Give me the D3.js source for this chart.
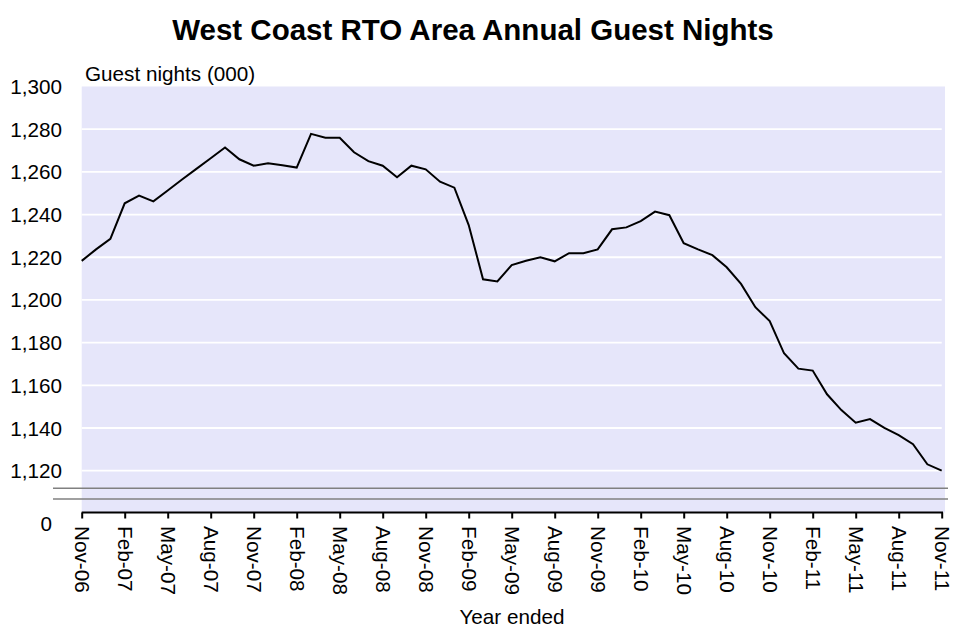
<!DOCTYPE html>
<html>
<head>
<meta charset="utf-8">
<script src="https://cdn.jsdelivr.net/npm/d3@7"></script>
<style>
  html, body { margin: 0; padding: 0; background: #fff; }
  svg { display: block; }
  text { font-family: "Liberation Sans", Arial, sans-serif; fill: #000; }
</style>
</head>
<body>
<svg id="chart" width="953" height="626"></svg>
<script>
// ---- Data ----
const title = "West Coast RTO Area Annual Guest Nights";
const yAxisTitle = "Guest nights (000)";
const xAxisTitle = "Year ended";
// Monthly annual guest nights (000), Nov-06 .. Nov-11
const guestNights = [
  1218.3, 1223.7, 1228.6, 1245.3, 1248.9, 1246.2, 1251.3, 1256.4, 1261.4, 1266.4,
  1271.4, 1265.9, 1262.9, 1264.0, 1263.1, 1262.0, 1277.8, 1276.0, 1276.0, 1269.2,
  1265.0, 1262.9, 1257.5, 1262.9, 1261.2, 1255.4, 1252.6, 1235.1, 1209.7, 1208.7,
  1216.3, 1218.4, 1220.0, 1218.1, 1221.9, 1221.9, 1223.7, 1233.1, 1234.0, 1236.9,
  1241.4, 1239.7, 1226.6, 1223.7, 1221.0, 1215.3, 1207.5, 1196.6, 1190.1, 1175.0,
  1167.8, 1166.9, 1155.8, 1148.4, 1142.5, 1144.2, 1140.1, 1136.7, 1132.4, 1123.0,
  1120.0
];
const xTickIndex = [0, 3, 6, 9, 12, 15, 18, 21, 24, 27, 30, 33, 36, 39, 42, 45, 48, 51, 54, 57, 60];
const xTickLabels = ["Nov-06","Feb-07","May-07","Aug-07","Nov-07","Feb-08","May-08","Aug-08",
  "Nov-08","Feb-09","May-09","Aug-09","Nov-09","Feb-10","May-10","Aug-10","Nov-10",
  "Feb-11","May-11","Aug-11","Nov-11"];
const yTicks = [1120, 1140, 1160, 1180, 1200, 1220, 1240, 1260, 1280, 1300];
const yBreakLabel = "0";

// ---- Layout ----
const svg = d3.select("#chart");
const plotL = 81.7, plotR = 941.7, bgR = 945;
const plotTop = 86.5, axisY = 512.5;
const fs = 20.7;

const x = d3.scaleLinear().domain([0, guestNights.length - 1]).range([plotL, plotR]);
const y = d3.scaleLinear().domain([1120, 1300]).range([470.7, plotTop]);

// plot background
svg.append("rect")
  .attr("x", plotL).attr("y", plotTop)
  .attr("width", bgR - plotL).attr("height", axisY - plotTop)
  .attr("fill", "#e6e6fa");

// gridlines
svg.append("g").selectAll("line")
  .data(yTicks.filter(d => d < 1300))
  .join("line")
  .attr("x1", plotL).attr("x2", plotR)
  .attr("y1", d => y(d)).attr("y2", d => y(d))
  .attr("stroke", "#fff").attr("stroke-width", 1.8);

// axis break lines
[488.3, 499].forEach(yy => {
  svg.append("line")
    .attr("x1", 53).attr("x2", 948)
    .attr("y1", yy).attr("y2", yy)
    .attr("stroke", "#808080").attr("stroke-width", 1.6);
});

// y axis labels
const yAxis = d3.axisLeft(y).tickValues(yTicks).tickSize(0).tickPadding(0)
  .tickFormat(d3.format(","));
const gy = svg.append("g").attr("transform", `translate(62,0)`).call(yAxis);
gy.select(".domain").remove();
gy.selectAll("text").attr("font-size", fs).attr("font-family", "Liberation Sans, Arial, sans-serif")
  .attr("dy", "0.34em").attr("x", 0);

svg.append("text")
  .attr("x", 52).attr("y", 531)
  .attr("text-anchor", "end").attr("font-size", fs)
  .text(yBreakLabel);

// x axis
const xAxis = d3.axisBottom(x).tickValues(xTickIndex)
  .tickFormat((d, i) => xTickLabels[i]).tickSize(6).tickSizeOuter(0);
const gx = svg.append("g").attr("transform", `translate(0,${axisY})`).call(xAxis);
gx.select(".domain").attr("stroke", "#000").attr("stroke-width", 2)
  .attr("d", `M${plotL},0H${bgR - 2}`);
gx.selectAll(".tick line").attr("stroke", "#000").attr("stroke-width", 2);
gx.selectAll(".tick text")
  .attr("font-size", fs).attr("font-family", "Liberation Sans, Arial, sans-serif")
  .attr("fill", "#000")
  .attr("text-anchor", "start")
  .attr("transform", "rotate(90)")
  .attr("x", 13.5).attr("y", 0).attr("dy", "0.36em");

// line
const line = d3.line().x((d, i) => x(i)).y(d => y(d));
svg.append("path")
  .datum(guestNights)
  .attr("d", line)
  .attr("fill", "none")
  .attr("stroke", "#000")
  .attr("stroke-width", 2)
  .attr("stroke-linejoin", "miter");

// titles
svg.append("text")
  .attr("x", 473).attr("y", 40)
  .attr("text-anchor", "middle")
  .attr("font-size", 29.5).attr("font-weight", "bold")
  .text(title);

svg.append("text")
  .attr("x", 85).attr("y", 80.5)
  .attr("font-size", fs)
  .text(yAxisTitle);

svg.append("text")
  .attr("x", 512).attr("y", 623.5)
  .attr("text-anchor", "middle")
  .attr("font-size", fs)
  .text(xAxisTitle);
</script>
</body>
</html>
